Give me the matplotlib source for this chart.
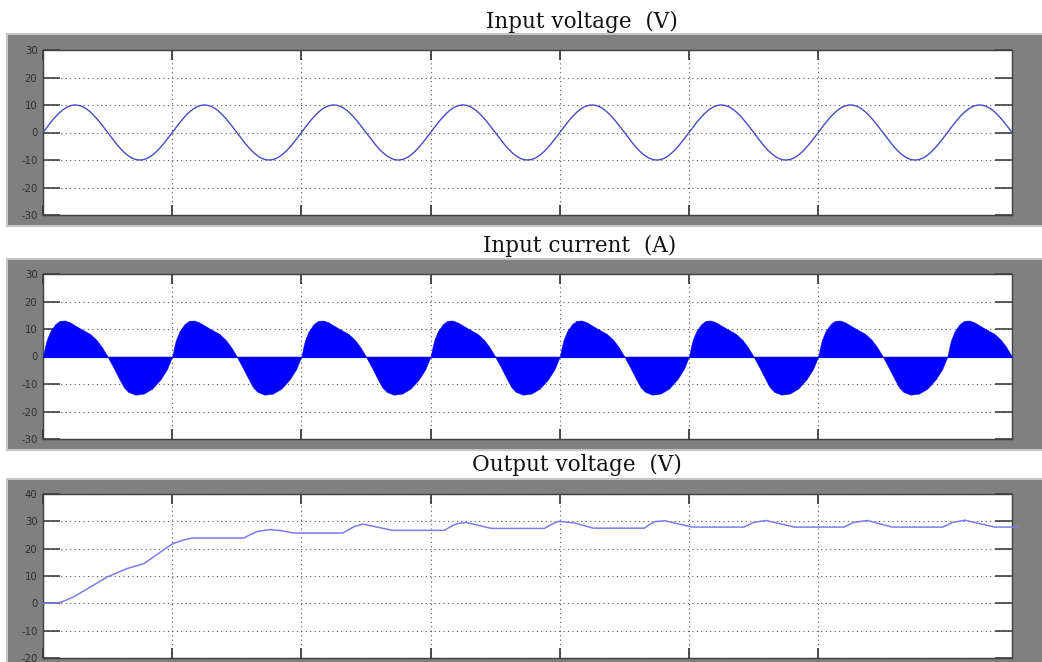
import numpy as np
import matplotlib
matplotlib.use("Agg")
import matplotlib.pyplot as plt
from matplotlib.patches import Rectangle

# ---------------- data ----------------
titles = ["Input voltage  (V)", "Input current  (A)", "Output voltage  (V)"]
t_end = 0.15
x_ticks = [0.00, 0.02, 0.04, 0.06, 0.08, 0.10, 0.12]
y_ticks_top = [-30, -20, -10, 0, 10, 20, 30]
y_ticks_out = [-20, -10, 0, 10, 20, 30, 40]

# input voltage: 10 V amplitude, 50 Hz
vin_amp = 10.0
vin_freq = 50.0

# input current: one mains cycle envelope (s, A), repeated each cycle
cur_cycle_t = [0.0, 0.0003, 0.00057, 0.0011, 0.0019, 0.0026, 0.0034, 0.0042, 0.0057,
               0.0073, 0.0083, 0.0091, 0.0100, 0.0102, 0.0109, 0.0117, 0.0125, 0.0132,
               0.0143, 0.0156, 0.0169, 0.0182, 0.0192, 0.0200]
cur_cycle_v = [0.0, 3.5, 6.0, 9.1, 11.8, 13.0, 13.1, 12.4, 10.3,
               8.2, 6.0, 3.5, 0.0, -1.0, -4.0, -7.7, -11.2, -12.9,
               -13.9, -13.5, -11.7, -8.3, -4.6, 0.0]
n_cycles = 8

# output voltage (s, V)
vout_t = [0.0, 0.0019, 0.0030, 0.0047, 0.0070, 0.0099, 0.0130, 0.0156, 0.0176, 0.0200,
          0.0215, 0.0231, 0.0311, 0.0322, 0.0332, 0.0352, 0.0368, 0.0389, 0.0464, 0.0475,
          0.0482, 0.0495, 0.0513, 0.0541, 0.0621, 0.0632, 0.0640, 0.0655, 0.0694, 0.0776,
          0.0788, 0.0798, 0.0823, 0.0852, 0.0931, 0.0940, 0.0948, 0.0963, 0.1005, 0.1085,
          0.1100, 0.1119, 0.1163, 0.1240, 0.1255, 0.1276, 0.1315, 0.1393, 0.1408, 0.1427,
          0.1473, 0.1510]
vout_v = [0.0, 0.0, 0.6, 2.3, 5.5, 9.6, 12.7, 14.5, 17.8, 21.7,
          23.0, 23.9, 23.9, 25.3, 26.3, 27.0, 26.6, 25.7, 25.7, 27.2,
          28.1, 29.0, 28.1, 26.7, 26.7, 28.2, 29.1, 29.6, 27.4, 27.4,
          29.0, 30.0, 29.4, 27.5, 27.5, 29.0, 29.9, 30.2, 27.9, 27.9,
          29.6, 30.3, 27.9, 27.9, 29.6, 30.3, 27.9, 27.9, 29.6, 30.4,
          27.9, 27.9]

# ---------------- figure ----------------
W, H = 1042, 662
fig = plt.figure(figsize=(W / 100, H / 100), dpi=100)
fig.patch.set_facecolor("white")

def fx(px):
    return px / W

def fy(py):
    return 1 - py / H

# gray frames (pixel coords: top, bottom)
frames = [(34, 226), (259, 450), (479, 664)]
for top, bot in frames:
    fig.patches.append(Rectangle((fx(7), fy(bot)), fx(1042 + 5) - fx(7), fy(top) - fy(bot),
                                 transform=fig.transFigure, facecolor="#808080",
                                 edgecolor="#c4c4c4", linewidth=1.5, zorder=-10))

axes_px = [(50, 215), (274, 439), (494, 658)]
title_pos = [(582, 28), (580, 252), (577, 471)]

axs = []
for (top, bot) in axes_px:
    ax = fig.add_axes([fx(43), fy(bot), fx(1012) - fx(43), fy(top) - fy(bot)])
    axs.append(ax)

for (x, y), t in zip(title_pos, titles):
    fig.text(fx(x), fy(y), t, ha="center", va="baseline",
             family="DejaVu Serif", fontsize=15.5, color="#111111")

# data series
t = np.linspace(0, t_end, 3000)
vin = vin_amp * np.sin(2 * np.pi * vin_freq * t)

ct = np.concatenate([np.array(cur_cycle_t) + k * 0.02 for k in range(n_cycles)])
cv = np.concatenate([np.array(cur_cycle_v) for k in range(n_cycles)])

axs[0].plot(t, vin, color="#4a4ac4", lw=1.0, zorder=3)
axs[1].fill_between(ct, 0, cv, color="#0000ff", lw=0.3, edgecolor="#0000ff", zorder=3)
axs[1].axhline(0, color="#0000ff", lw=0.8, zorder=3)
axs[2].plot(vout_t, vout_v, color="#7c7ce6", lw=1.1, zorder=3, clip_on=False)

limits = [(-30, 30), (-30, 30), (-20, 40)]
yticks = [y_ticks_top, y_ticks_top, y_ticks_out]
for ax, lim, yt in zip(axs, limits, yticks):
    ax.set_facecolor("white")
    ax.set_xlim(0, t_end)
    ax.set_ylim(*lim)
    ax.set_xticks(x_ticks)
    ax.set_xticklabels([])
    ax.set_yticks(yt)
    ax.set_yticklabels([str(v) for v in yt], family="DejaVu Sans", fontsize=7.3,
                       color="#2e2e2e")
    ax.tick_params(axis="x", direction="in", top=True, bottom=True, length=7,
                   width=1.2, color="#303030")
    ax.tick_params(axis="y", direction="in", left=True, right=True, length=12,
                   width=1.2, color="#404040", pad=4)
    ax.grid(True, color="#555555", linestyle=(0, (1, 3)), linewidth=0.8)
    for s in ax.spines.values():
        s.set_color("#404040")
        s.set_linewidth(1.0)

fig.savefig("out.png", dpi=100)
